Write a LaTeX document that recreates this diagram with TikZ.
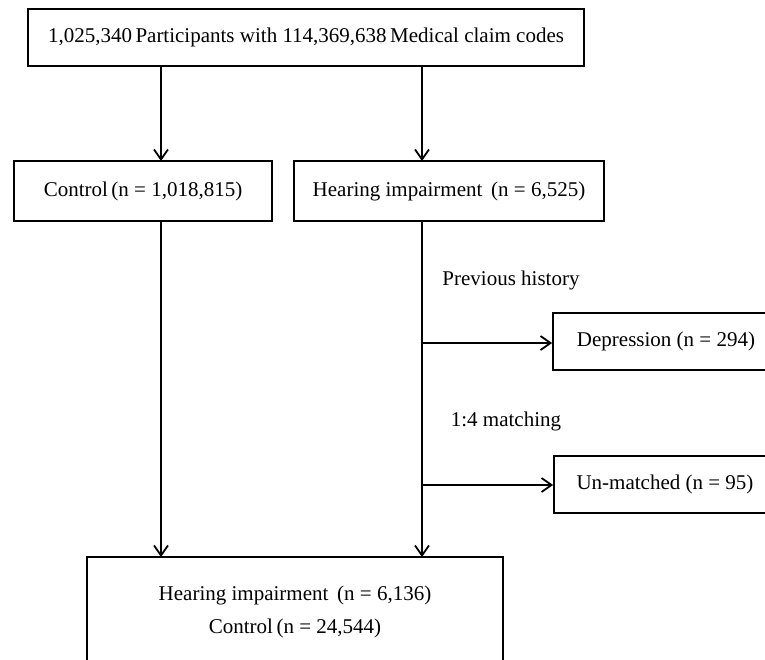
\documentclass[tikz,border=0pt]{standalone}
\usepackage{fontspec}
\setmainfont{Liberation Serif}
\usetikzlibrary{arrows.meta}
\begin{document}
\begin{tikzpicture}[x=1pt,y=-1pt,
  box/.style={draw=black,line width=1.8pt,rectangle,inner sep=0pt,font=\fontsize{21}{25}\selectfont},
  lbl/.style={inner sep=0pt,font=\fontsize{21}{25}\selectfont},
  conn/.style={line width=1.8pt,-{Straight Barb[length=10pt,width=14pt,line width=1.8pt]}},
  seg/.style={line width=1.8pt}]
\useasboundingbox (0,0) rectangle (765,659);
\clip (0,0) rectangle (765,659);
\node[box,minimum width=556pt,minimum height=57pt] (top) at (306,37.5) {1,025,340\,Participants with 114,369,638\,Medical claim codes};
\node[box,minimum width=258pt,minimum height=60pt] (ctrl) at (143,191) {Control\,(n = 1,018,815)};
\node[box,minimum width=310pt,minimum height=60pt] (hi) at (449,191) {Hearing impairment\, (n = 6,525)};
\node[box,minimum width=226pt,minimum height=57pt] (dep) at (666,341.5) {Depression (n = 294)};
\node[box,minimum width=222pt,minimum height=57pt] (un) at (665,484.5) {Un-matched (n = 95)};
\node[box,minimum width=416pt,minimum height=150pt] (fin) at (295,632) {};
\node[lbl] (finA) at (295,595) {Hearing impairment\, (n = 6,136)};
\node[lbl] (finB) at (295,628) {Control\,(n = 24,544)};
\node[lbl] (prev) at (511,280) {Previous history};
\node[lbl] (match) at (506,421) {1:4 matching};
% connector points
\coordinate (tA) at (161,66);
\coordinate (tB) at (422,66);
\coordinate (cA) at (161,161);
\coordinate (cB) at (422,161);
\coordinate (cOut) at (161,221);
\coordinate (hOut) at (422,221);
\coordinate (fA) at (161,557);
\coordinate (fB) at (422,557);
\coordinate (j1) at (422,343);
\coordinate (j2) at (422,485);
\coordinate (d1) at (dep.west |- j1);
\coordinate (u1) at (un.west |- j2);
\draw[conn] (tA) -- (cA);
\draw[conn] (tB) -- (cB);
\draw[conn] (cOut) -- (fA);
\draw[conn] (hOut) -- (fB);
\draw[conn] (j1) -- (d1);
\draw[conn] (j2) -- (u1);
\end{tikzpicture}
\end{document}
